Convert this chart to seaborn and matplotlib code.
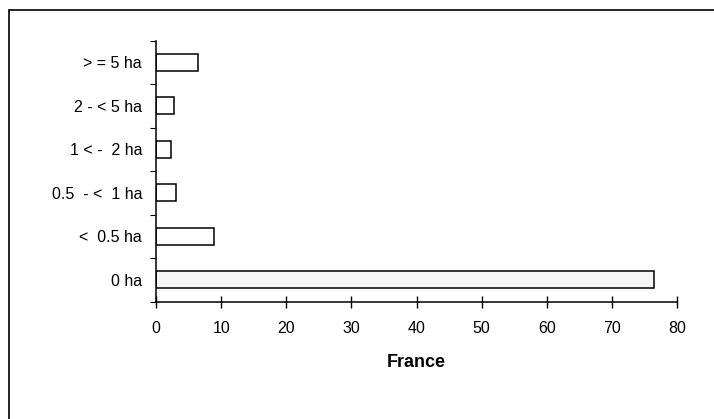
import matplotlib
matplotlib.use('Agg')
import matplotlib.pyplot as plt
import seaborn as sns
import pandas as pd
from matplotlib.lines import Line2D

# share of holdings by size class (%)
categories = ['> = 5 ha', '2 - < 5 ha', '1 < -  2 ha', '0.5  - <  1 ha', '<  0.5 ha', '0 ha']
values = [6.5, 2.8, 2.25, 3.0, 8.9, 76.5]
x_ticks = [0, 10, 20, 30, 40, 50, 60, 70, 80]
x_label = 'France'

sns.set_style('white')
plt.rcParams['font.family'] = ['Liberation Sans', 'DejaVu Sans']
plt.rcParams['text.color'] = 'black'
plt.rcParams['axes.labelcolor'] = 'black'
plt.rcParams['xtick.color'] = 'black'
plt.rcParams['ytick.color'] = 'black'

df = pd.DataFrame({'size': categories, 'share': values})

fig = plt.figure(figsize=(7.14, 4.19), dpi=100)
ax = fig.add_axes([156 / 714, 1 - 301.7 / 419, 521 / 714, 261 / 419])

sns.barplot(ax=ax, data=df, x='share', y='size', order=categories, orient='h',
            color='white', edgecolor='black', linewidth=1.1, width=0.39, saturation=1)
# the largest bar carries a faint grey tint in the original
ax.patches[-1].set_facecolor('#f6f6f6')

ax.set_xlim(0, 80)
ax.set_ylim(len(categories) - 0.5, -0.5)
ax.set_xticks(x_ticks)
ax.set_xticklabels([str(t) for t in x_ticks], fontsize=11.5)
ax.tick_params(axis='x', bottom=True, direction='inout', length=8, width=1, pad=10)
ax.tick_params(axis='y', which='major', left=False, length=0, pad=10, labelsize=11.5)
ax.set_yticks([i + 0.5 for i in range(-1, len(categories))], minor=True)
ax.tick_params(axis='y', which='minor', left=True, direction='out', length=4, width=0.8)

for s in ['top', 'right']:
    ax.spines[s].set_visible(False)
for s in ['left', 'bottom']:
    ax.spines[s].set_color('black')
    ax.spines[s].set_linewidth(1.1)

ax.set_ylabel('')
ax.set_xlabel(x_label, fontsize=13, fontweight='bold', labelpad=13)

# outer frame (left and top edges visible in the scan)
fig.add_artist(Line2D([9 / 714, 9 / 714], [0, 1 - 10 / 419], transform=fig.transFigure, color='black', lw=1.2))
fig.add_artist(Line2D([9 / 714, 1], [1 - 10 / 419, 1 - 10 / 419], transform=fig.transFigure, color='black', lw=1.2))

fig.savefig('out.png', dpi=100)
